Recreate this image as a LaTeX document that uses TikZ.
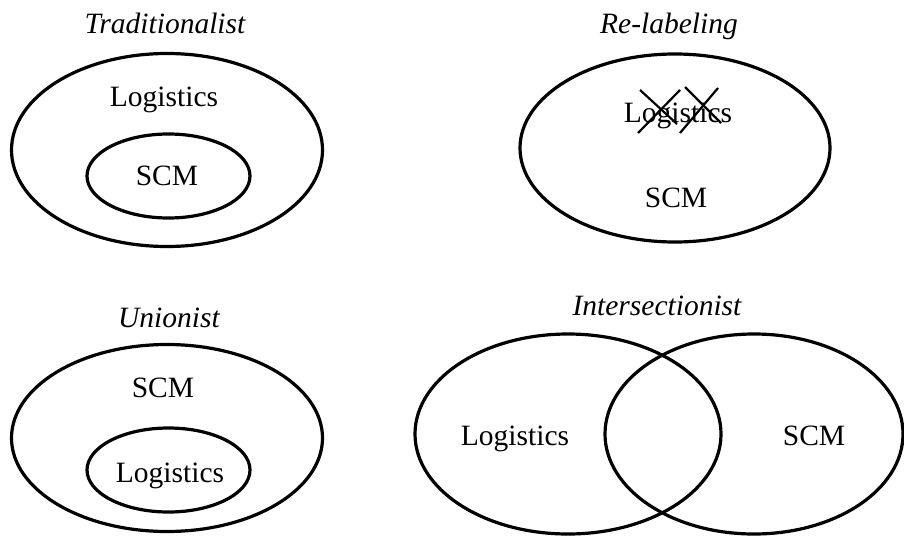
\documentclass[tikz,border=0pt]{standalone}
\usepackage{fontspec}
\setmainfont{Liberation Serif}
\usetikzlibrary{shapes.geometric}

\tikzset{
  set/.style = {ellipse, draw, line width = 3.2pt, inner sep = 0pt},
  word/.style = {anchor = base, inner sep = 0pt, font = \fontsize{29.5}{34}\selectfont},
  title/.style = {word, font = \fontsize{29.5}{34}\selectfont\itshape},
  strike/.style = {line width = 2.2pt}
}

\begin{document}
\begin{tikzpicture}[x = 1pt, y = -1pt]
  \useasboundingbox (0,0) rectangle (904,535);

  % traditionalist
  \node (trad) at (165,34) [title] {Traditionalist};
  \node (tout) at (167,150) [set, minimum width = 311pt, minimum height = 193pt] {};
  \node (tin)  at (168.5,176) [set, minimum width = 163pt, minimum height = 84pt] {};
  \node (tlog) at (164,106) [word] {Logistics};
  \node (tscm) at (167,185) [word] {SCM};

  % re-labeling
  \node (relab) at (669,34) [title] {Re-labeling};
  \node (rout)  at (675,148) [set, minimum width = 310pt, minimum height = 188pt] {};
  \node (rlog)  at (678,122) [word] {Logistics};
  \node (rscm)  at (676,207) [word] {SCM};
  \draw [strike] (640,90) -- (677,124);
  \draw [strike] (680,90) -- (638,133);
  \draw [strike] (685,87) -- (721,123);
  \draw [strike] (718,88) -- (680,133);

  % unionist
  \node (union) at (169,327) [title] {Unionist};
  \node (uout)  at (167,438) [set, minimum width = 311pt, minimum height = 187pt] {};
  \node (uin)   at (168.5,470) [set, minimum width = 163pt, minimum height = 84pt] {};
  \node (uscm)  at (163,397) [word] {SCM};
  \node (ulog)  at (170,482) [word] {Logistics};

  % intersectionist
  \node (inter) at (657,315) [title] {Intersectionist};
  \node (vleft)  at (568,434) [set, minimum width = 306pt, minimum height = 200pt] {};
  \node (vright) at (754,434) [set, minimum width = 298pt, minimum height = 200pt] {};
  \node (vlog) at (515,445) [word] {Logistics};
  \node (vscm) at (814,445) [word] {SCM};
\end{tikzpicture}
\end{document}
